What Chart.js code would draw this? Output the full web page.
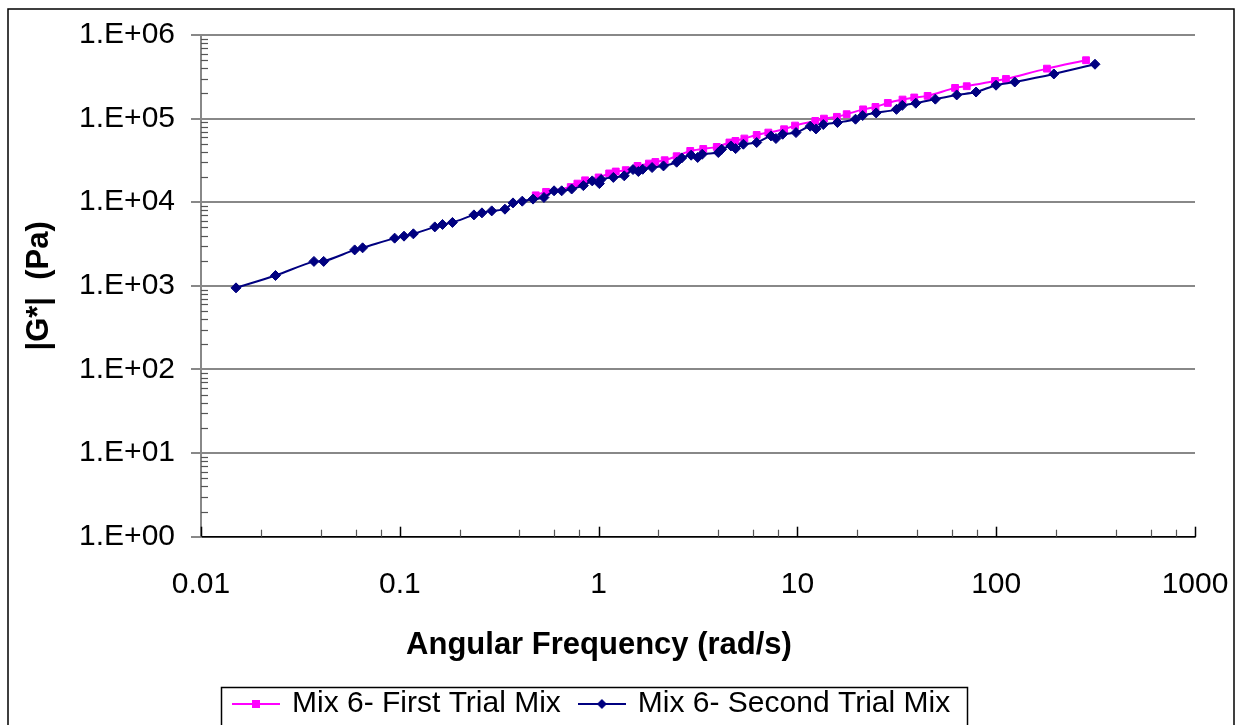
<!DOCTYPE html>
<html>
<head>
<meta charset="utf-8">
<script src="https://cdn.jsdelivr.net/npm/chart.js@4.4.1/dist/chart.umd.min.js"></script>
<style>
html,body{margin:0;padding:0;background:#fff;}
#wrap{width:1241px;height:725px;position:relative;}
</style>
</head>
<body>
<div id="wrap"><canvas id="c" width="1241" height="725"></canvas></div>
<script>
// ---- data ----
const seriesNames = ['Mix 6- First Trial Mix', 'Mix 6- Second Trial Mix'];

const firstTrialFreq = [0.483, 0.544, 0.724, 0.782, 0.855, 1.0, 1.13, 1.22, 1.37, 1.57, 1.79, 1.93, 2.15, 2.47, 2.89, 3.36, 3.93, 4.55, 4.88, 5.41, 6.24, 7.14, 8.57, 9.73, 12.3, 13.6, 15.8, 17.7, 21.4, 24.7, 28.5, 33.8, 38.7, 45.2, 62.1, 71.1, 98.6, 112, 180, 283];
const firstTrialG = [12100, 13300, 15200, 16700, 18300, 19800, 22100, 23300, 24200, 27200, 29000, 30300, 31800, 35500, 41100, 43400, 45900, 51800, 54100, 57800, 63800, 68100, 74600, 82600, 93800, 100000, 105000, 113000, 129000, 138000, 154000, 169000, 179000, 187000, 233000, 244000, 282000, 298000, 396000, 499000];

const secondTrialFreq = [0.015, 0.0237, 0.037, 0.0414, 0.0593, 0.065, 0.0942, 0.105, 0.117, 0.150, 0.164, 0.184, 0.236, 0.259, 0.290, 0.338, 0.371, 0.413, 0.468, 0.531, 0.597, 0.652, 0.732, 0.838, 0.929, 1.009, 1.03, 1.186, 1.346, 1.49, 1.585, 1.667, 1.858, 2.12, 2.47, 2.62, 2.92, 3.15, 3.32, 4.0, 4.16, 4.63, 4.89, 5.35, 6.24, 7.36, 7.8, 8.43, 9.84, 11.6, 12.4, 13.5, 15.9, 19.6, 21.3, 24.9, 31.5, 33.7, 39.4, 49.4, 63.3, 79.2, 99.8, 124, 195, 314];
const secondTrialG = [946, 1330, 1960, 1960, 2690, 2850, 3720, 3930, 4190, 5070, 5420, 5730, 7060, 7460, 7880, 8260, 9820, 10300, 10900, 11400, 13700, 13700, 14400, 15800, 18000, 16700, 18700, 19800, 20700, 24600, 23300, 24800, 26000, 27200, 30100, 33900, 36500, 34300, 37500, 39300, 43000, 47100, 43800, 49400, 51800, 62100, 57800, 65000, 68100, 81100, 75300, 84900, 89800, 98400, 109000, 117000, 129000, 144000, 153000, 171000, 192000, 208000, 251000, 274000, 342000, 447000];

const xTickValues = [0.01, 0.1, 1, 10, 100, 1000];
const xTickLabels = ['0.01', '0.1', '1', '10', '100', '1000'];
const yTickValues = [1, 10, 100, 1000, 10000, 100000, 1000000];
const yTickLabels = ['1.E+00', '1.E+01', '1.E+02', '1.E+03', '1.E+04', '1.E+05', '1.E+06'];

const xTitle = 'Angular Frequency (rad/s)';
const yTitle = '|G*|  (Pa)';

// ---- styling ----
const PINK = '#FF00FF';
const NAVY = '#000080';
const FONT = "'Liberation Sans', Arial, sans-serif";
const LEGEND_PAD = 20;
const LEGEND_FONT = 30;

function toPoints(xs, ys) { return xs.map((x, i) => ({ x: x, y: ys[i] })); }

function legendSymbol(color, style) {
  const cv = document.createElement('canvas');
  cv.width = 48; cv.height = 14;
  const g = cv.getContext('2d');
  g.strokeStyle = color; g.lineWidth = 2;
  g.beginPath(); g.moveTo(0, 7); g.lineTo(48, 7); g.stroke();
  g.fillStyle = color;
  if (style === 'rect') {
    g.fillRect(20, 3, 8, 8);
  } else {
    g.beginPath(); g.moveTo(24, 2); g.lineTo(29, 7); g.lineTo(24, 12); g.lineTo(19, 7); g.closePath(); g.fill();
  }
  return cv;
}
const legendImgs = [legendSymbol(PINK, 'rect'), legendSymbol(NAVY, 'diamond')];

const decadeTicks = (vals) => function (scale) {
  scale.ticks = vals.map(v => ({ value: v }));
};

const frameAndTicks = {
  id: 'frameAndTicks',
  beforeDraw(chart) {
    const ctx = chart.ctx;
    ctx.save();
    ctx.fillStyle = '#fff';
    ctx.fillRect(0, 0, chart.width, chart.height);
    ctx.strokeStyle = '#000';
    ctx.lineWidth = 1.5;
    ctx.strokeRect(8, 9, 1226, 740);
    ctx.restore();
  },
  afterLayout(chart) {
    const lg = chart.legend;
    if (!lg || !lg.lineWidths) return;
    const start = (lg.left + LEGEND_PAD + lg.right - lg.lineWidths[0]) / 2;
    const dx = 235 - start;
    lg.left += dx; lg.right += dx;
    const dy = 704 - (lg.top + LEGEND_PAD + LEGEND_FONT / 2);
    lg.top += dy; lg.bottom += dy;
  },
  beforeDatasetsDraw(chart) {
    const ctx = chart.ctx;
    const xs = chart.scales.x, ys = chart.scales.y;
    const area = chart.chartArea;
    ctx.save();
    ctx.strokeStyle = '#555';
    ctx.lineWidth = 1.2;
    for (let e = 0; e < 6; e++) {
      for (let m = 2; m <= 9; m++) {
        const py = Math.round(ys.getPixelForValue(m * Math.pow(10, e))) + 0.5;
        ctx.beginPath(); ctx.moveTo(area.left, py); ctx.lineTo(area.left + 7, py); ctx.stroke();
      }
    }
    ctx.strokeStyle = '#000';
    ctx.lineWidth = 1.5;
    xTickValues.forEach(v => {
      const px = Math.round(xs.getPixelForValue(v)) + 0.5;
      ctx.beginPath(); ctx.moveTo(px, area.bottom); ctx.lineTo(px, area.bottom - 10); ctx.stroke();
    });
    ctx.strokeStyle = '#555';
    ctx.lineWidth = 1.2;
    for (let e = -2; e < 3; e++) {
      [2, 4, 6, 8].forEach(m => {
        const px = Math.round(xs.getPixelForValue(m * Math.pow(10, e))) + 0.5;
        ctx.beginPath(); ctx.moveTo(px, area.bottom); ctx.lineTo(px, area.bottom - 7); ctx.stroke();
      });
    }
    ctx.restore();
  },
  afterDraw(chart) {
    const ctx = chart.ctx;
    // x-axis title (Excel places it left of the plot centre)
    ctx.save();
    ctx.fillStyle = '#000';
    ctx.font = "bold 31px " + FONT;
    ctx.textAlign = 'center';
    ctx.textBaseline = 'middle';
    ctx.fillText(xTitle, 599, 645);
    ctx.restore();

    const lg = chart.legend;
    if (!lg || !lg.legendHitBoxes || !lg.legendHitBoxes.length) return;
    const hb = lg.legendHitBoxes;
    const first = hb[0], last = hb[hb.length - 1];
    ctx.save();
    ctx.strokeStyle = '#000';
    ctx.lineWidth = 1.5;
    const left = first.left - 14;
    const right = last.left + last.width + 17;
    const top = first.top + first.height / 2 - 17;
    ctx.strokeRect(Math.round(left) + 0.5, Math.round(top) + 0.5, Math.round(right - left), 100);
    ctx.restore();
  }
};

new Chart(document.getElementById('c'), {
  type: 'line',
  data: {
    datasets: [
      {
        label: seriesNames[0],
        data: toPoints(firstTrialFreq, firstTrialG),
        borderColor: PINK,
        backgroundColor: PINK,
        borderWidth: 2,
        pointStyle: 'rect',
        pointRadius: 4.8,
        pointBorderWidth: 1,
        pointBackgroundColor: PINK,
        pointBorderColor: PINK,
        tension: 0.3,
        order: 2
      },
      {
        label: seriesNames[1],
        data: toPoints(secondTrialFreq, secondTrialG),
        borderColor: NAVY,
        backgroundColor: NAVY,
        borderWidth: 2,
        pointStyle: 'rectRot',
        pointRadius: 5,
        pointBorderWidth: 1,
        pointBackgroundColor: NAVY,
        pointBorderColor: NAVY,
        tension: 0.3,
        order: 1
      }
    ]
  },
  options: {
    responsive: false,
    animation: false,
    events: [],
    layout: { padding: { left: 0, right: 46, top: 35, bottom: 0 } },
    scales: {
      x: {
        type: 'logarithmic',
        position: 'bottom',
        min: 0.01,
        max: 1000,
        afterBuildTicks: decadeTicks(xTickValues),
        afterFit(scale) {
          scale.height = 725 - (LEGEND_FONT + LEGEND_PAD + 10) - 536.7;
          scale.paddingLeft = 0;
          scale.paddingRight = 0;
        },
        grid: { display: true, drawOnChartArea: false, drawTicks: false },
        border: { display: true, color: '#000', width: 1.5 },
        ticks: {
          autoSkip: false,
          maxRotation: 0,
          padding: 30,
          color: '#000',
          font: { family: FONT, size: 30 },
          callback: (v) => { const i = xTickValues.indexOf(v); return i >= 0 ? xTickLabels[i] : ''; }
        },
        title: { display: false }
      },
      y: {
        type: 'logarithmic',
        position: 'left',
        min: 1,
        max: 1000000,
        afterBuildTicks: decadeTicks(yTickValues),
        afterFit(scale) { scale.width = 201; },
        grid: { display: true, drawOnChartArea: true, drawTicks: true, tickLength: 10, color: '#888', lineWidth: 2 },
        border: { display: true, color: '#888', width: 2 },
        ticks: {
          autoSkip: false,
          padding: 16,
          color: '#000',
          font: { family: FONT, size: 30 },
          callback: (v) => { const i = yTickValues.indexOf(v); return i >= 0 ? yTickLabels[i] : ''; }
        },
        title: {
          display: true,
          text: yTitle,
          color: '#000',
          font: { family: FONT, size: 31, weight: 'bold' },
          padding: { top: 21, bottom: 21 }
        }
      }
    },
    plugins: {
      legend: {
        display: true,
        position: 'bottom',
        labels: {
          usePointStyle: true,
          pointStyleWidth: 42,
          padding: LEGEND_PAD,
          color: '#000',
          font: { family: FONT, size: LEGEND_FONT },
          sort: (a, b) => a.datasetIndex - b.datasetIndex,
          generateLabels(chart) {
            const items = Chart.defaults.plugins.legend.labels.generateLabels(chart);
            items.forEach(it => { it.pointStyle = legendImgs[it.datasetIndex]; });
            return items;
          }
        }
      },
      tooltip: { enabled: false }
    }
  },
  plugins: [frameAndTicks]
});
</script>
</body>
</html>
